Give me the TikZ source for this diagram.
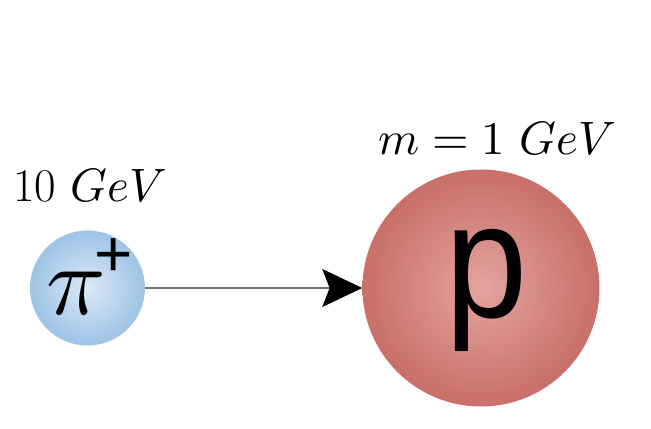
\documentclass[tikz,border=0pt]{standalone}
\usepackage{fontspec}
\usepackage{unicode-math}
\setmathfont{Latin Modern Math}
\setsansfont{Liberation Sans}
\usetikzlibrary{arrows.meta}
\definecolor{PionEdge}{HTML}{9DC3E6}
\definecolor{PionCore}{HTML}{DCE9F6}
\definecolor{ProtonEdge}{HTML}{C86F68}
\definecolor{ProtonCore}{HTML}{E4A49F}
\definecolor{BeamGray}{HTML}{707070}

\begin{document}
\begin{tikzpicture}
    \useasboundingbox (0,0) rectangle (19.53,12.87);
    \node[circle, shading=radial, inner color=PionCore, outer color=PionEdge, minimum size=3.45cm, inner sep=0] (pion) at (2.625,4.23) {};
    \node[circle, shading=radial, inner color=ProtonCore, outer color=ProtonEdge, minimum size=7.11cm, inner sep=0] (proton) at (14.43,4.23) {};
    \node[anchor=base west, inner sep=0] (pionlabel) at (1.40,3.42) {\fontsize{84}{84}\selectfont$\pi$\kern-0.34cm\raisebox{1.15cm}{\fontsize{56}{56}\selectfont\sffamily +}};
    \node[anchor=base, inner sep=0, xscale=0.9] (protonlabel) at (14.61,3.33) {\fontsize{140}{140}\selectfont\sffamily p};
    \node[anchor=base, inner sep=0, font=\fontsize{40}{40}\selectfont] (energy) at (2.7,6.81) {10 $GeV$};
    \node[anchor=base, inner sep=0, font=\fontsize{40}{40}\selectfont] (mass) at (14.91,8.22) {$m=1\ GeV$};
    \draw[BeamGray, line width=0.9pt, -{Stealth[length=1.2cm, width=1.14cm, inset=0.22cm, color=black]}] (pion.east) -- (proton.west);
  \end{tikzpicture}
\end{document}
